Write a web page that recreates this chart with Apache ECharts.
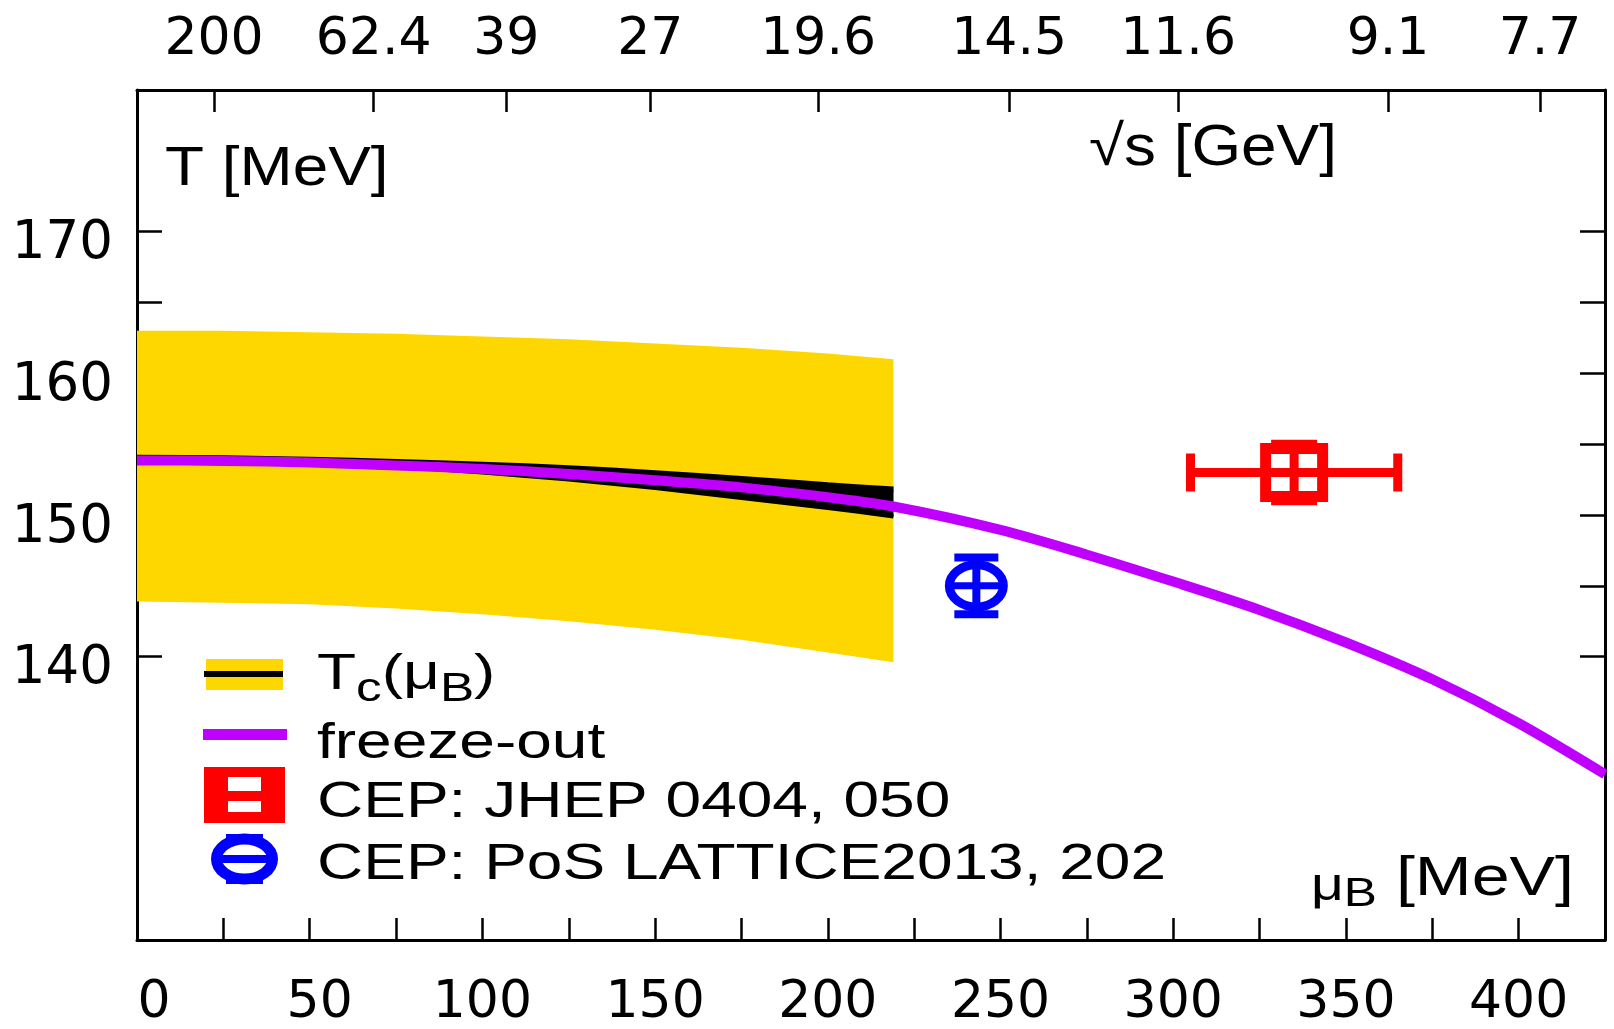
<!DOCTYPE html>
<html>
<head>
<meta charset="utf-8">
<script src="https://cdn.jsdelivr.net/npm/echarts@6/dist/echarts.min.js"></script>
<style>
html,body{margin:0;padding:0;background:#fff;}
#chart{width:1614px;height:1029px;}
</style>
</head>
<body>
<div id="chart"></div>
<script>
// ---- data ----
const muBand     = [0, 25, 50, 75, 100, 125, 150, 175, 200, 219];
const bandUpper  = [163.0, 163.0, 162.9, 162.8, 162.6, 162.4, 162.1, 161.8, 161.4, 161.0];
const bandLower  = [143.9, 143.8, 143.7, 143.4, 143.0, 142.5, 141.9, 141.2, 140.3, 139.6];
const tcUpper    = [154.05, 154.0, 153.9, 153.75, 153.55, 153.3, 152.95, 152.55, 152.1, 151.8];
const tcLower    = [154.0, 153.9, 153.7, 153.4, 153.0, 152.5, 151.9, 151.2, 150.5, 149.9];
const muFreeze   = [0, 25, 50, 75, 100, 125, 150, 175, 200, 219, 250, 275, 300, 325, 350, 375, 400, 425];
const tFreeze    = [153.85, 153.82, 153.7, 153.5, 153.25, 152.9, 152.45, 151.95, 151.25, 150.6, 148.95, 147.2, 145.3, 143.3, 141.0, 138.4, 135.3, 131.7];
const cepJhep    = [335, 153, 30, 2];   // muB, T, dMuB, dT
const cepLattice = [243, 145, 0, 2];    // muB, T, dMuB, dT
const xTickVals  = [25, 50, 75, 100, 125, 150, 175, 200, 225, 250, 275, 300, 325, 350, 375, 400];
const xLabelVals = [0, 50, 100, 150, 200, 250, 300, 350, 400];
const yTickVals  = [140, 145, 150, 155, 160, 165, 170];
const yLabelVals = [140, 150, 160, 170];
const sqrtsMu     = [22.3, 68.5, 106.9, 148.6, 197.2, 252.5, 301.4, 362.2, 406.2];
const sqrtsLabels = ['200', '62.4', '39', '27', '19.6', '14.5', '11.6', '9.1', '7.7'];
const legendNames = ['T{s|c}(μ{s|B})', 'freeze-out', 'CEP: JHEP 0404, 050', 'CEP: PoS LATTICE2013, 202'];

const YELLOW = '#FFD700', PURPLE = '#BF00FF', RED = '#FF0000', BLUE = '#0000FF';
const TICKFONT = 'DejaVu Sans';
const TXTFONT = 'Liberation Sans, Arial, sans-serif';

const chart = echarts.init(document.getElementById('chart'));

function pair(xs, ys) { return xs.map((x, i) => [x, ys[i]]); }

function bandRender(upper, lower, color) {
  return function (params, api) {
    const pts = [];
    for (let i = 0; i < muBand.length; i++) pts.push(api.coord([muBand[i], upper[i]]));
    for (let i = muBand.length - 1; i >= 0; i--) pts.push(api.coord([muBand[i], lower[i]]));
    return { type: 'polygon', shape: { points: pts }, style: { fill: color } };
  };
}

function jhepRender(params, api) {
  const mu = api.value(0), t = api.value(1), dm = api.value(2), dt = api.value(3);
  const c = api.coord([mu, t]);
  const xl = api.coord([mu - dm, t]), xr = api.coord([mu + dm, t]);
  const yt = api.coord([mu, t + dt]), yb = api.coord([mu, t - dt]);
  const st = { stroke: RED, lineWidth: 9, fill: null };
  return {
    type: 'group',
    children: [
      { type: 'line', shape: { x1: xl[0], y1: c[1], x2: xr[0], y2: c[1] }, style: st },
      { type: 'line', shape: { x1: xl[0], y1: c[1] - 19, x2: xl[0], y2: c[1] + 19 }, style: st },
      { type: 'line', shape: { x1: xr[0], y1: c[1] - 19, x2: xr[0], y2: c[1] + 19 }, style: st },
      { type: 'line', shape: { x1: c[0], y1: yt[1], x2: c[0], y2: yb[1] }, style: st },
      { type: 'line', shape: { x1: c[0] - 23, y1: yt[1], x2: c[0] + 23, y2: yt[1] }, style: st },
      { type: 'line', shape: { x1: c[0] - 23, y1: yb[1], x2: c[0] + 23, y2: yb[1] }, style: st },
      { type: 'rect', shape: { x: c[0] - 28.5, y: c[1] - 24, width: 57, height: 48 },
        style: { stroke: RED, lineWidth: 11, fill: null } }
    ]
  };
}

function latticeRender(params, api) {
  const mu = api.value(0), t = api.value(1), dt = api.value(3);
  const c = api.coord([mu, t]);
  const yt = api.coord([mu, t + dt]), yb = api.coord([mu, t - dt]);
  const st = { stroke: BLUE, lineWidth: 8, fill: null };
  return {
    type: 'group',
    children: [
      { type: 'line', shape: { x1: c[0], y1: yt[1], x2: c[0], y2: yb[1] }, style: st },
      { type: 'line', shape: { x1: c[0] - 22, y1: yt[1], x2: c[0] + 22, y2: yt[1] }, style: st },
      { type: 'line', shape: { x1: c[0] - 22, y1: yb[1], x2: c[0] + 22, y2: yb[1] }, style: st },
      { type: 'line', shape: { x1: c[0] - 27, y1: c[1], x2: c[0] + 27, y2: c[1] }, style: { stroke: BLUE, lineWidth: 7 } },
      { type: 'ellipse', shape: { cx: c[0], cy: c[1], rx: 27, ry: 21 },
        style: { stroke: BLUE, lineWidth: 9, fill: null } }
    ]
  };
}

const axisLine = { show: true, onZero: false, lineStyle: { color: '#000', width: 3 } };
const tickStyle = { color: '#000', width: 2.5 };

const option = {
  animation: false,
  backgroundColor: '#fff',
  grid: { left: 137, right: 9, top: 90, bottom: 84 },
  xAxis: [
    {
      type: 'value', position: 'bottom', min: 0, max: 425,
      axisLine: axisLine, splitLine: { show: false },
      axisTick: { show: true, inside: true, length: 22, customValues: xTickVals, lineStyle: tickStyle },
      axisLabel: {
        customValues: xLabelVals, margin: 37, color: '#000', fontFamily: TICKFONT, fontSize: 52,
        formatter: function (v) {
          if (v === 0) return '{a|0}';
          if (v === 50) return '{b|50}';
          return String(v);
        },
        rich: {
          a: { fontFamily: TICKFONT, fontSize: 52, color: '#000', padding: [0, 0, 0, 34] },
          b: { fontFamily: TICKFONT, fontSize: 52, color: '#000', padding: [0, 0, 0, 20] }
        }
      }
    },
    {
      type: 'value', position: 'top', min: 0, max: 425,
      axisLine: axisLine, splitLine: { show: false },
      axisTick: { show: true, inside: true, length: 22, customValues: sqrtsMu, lineStyle: tickStyle },
      axisLabel: {
        customValues: sqrtsMu, margin: 24, color: '#000', fontFamily: TICKFONT, fontSize: 52,
        formatter: function (v) {
          const i = sqrtsMu.findIndex(m => Math.abs(m - v) < 1e-6);
          return i >= 0 ? sqrtsLabels[i] : '';
        }
      }
    }
  ],
  yAxis: [
    {
      type: 'value', position: 'left', min: 120, max: 180,
      axisLine: axisLine, splitLine: { show: false },
      axisTick: { show: true, inside: true, length: 25, customValues: yTickVals, lineStyle: tickStyle },
      axisLabel: {
        customValues: yLabelVals, margin: 24, color: '#000', fontFamily: TICKFONT, fontSize: 53,
        verticalAlign: 'top', lineHeight: 26
      }
    },
    {
      type: 'value', position: 'right', min: 120, max: 180,
      axisLine: axisLine, splitLine: { show: false },
      axisTick: { show: true, inside: true, length: 25, customValues: yTickVals, lineStyle: tickStyle },
      axisLabel: { show: false }
    }
  ],
  series: [
    { name: 'Tc band', type: 'custom', xAxisIndex: 0, yAxisIndex: 0, z: 1, silent: true, clip: true,
      data: [[muBand[0], bandUpper[0]]], renderItem: bandRender(bandUpper, bandLower, YELLOW) },
    { name: 'Tc central band', type: 'custom', xAxisIndex: 0, yAxisIndex: 0, z: 2, silent: true, clip: true,
      data: [[muBand[0], tcUpper[0]]], renderItem: bandRender(tcUpper, tcLower, '#000') },
    { name: 'Tc upper', type: 'line', z: 3, data: pair(muBand, tcUpper), symbol: 'none', smooth: 0.3,
      lineStyle: { color: '#000', width: 6 }, silent: true },
    { name: 'Tc lower', type: 'line', z: 3, data: pair(muBand, tcLower), symbol: 'none', smooth: 0.3,
      lineStyle: { color: '#000', width: 4 }, silent: true },
    { name: 'freeze-out', type: 'line', z: 4, data: pair(muFreeze, tFreeze), symbol: 'none', smooth: 0.3,
      lineStyle: { color: PURPLE, width: 10 }, silent: true },
    { name: 'CEP JHEP', type: 'custom', z: 5, clip: false, silent: true,
      data: [cepJhep], encode: { x: 0, y: 1 }, renderItem: jhepRender },
    { name: 'CEP Lattice', type: 'custom', z: 5, clip: false, silent: true,
      data: [cepLattice], encode: { x: 0, y: 1 }, renderItem: latticeRender }
  ],
  graphic: [
    // axis titles
    { type: 'text', x: 165, y: 170, scaleX: 1.14, z: 100,
      style: { text: 'T [MeV]', fontFamily: TXTFONT, fontSize: 56, fill: '#000', verticalAlign: 'middle', align: 'left' } },
    { type: 'text', x: 1089, y: 149, scaleX: 1.12, z: 100,
      style: { text: '√s [GeV]', fontFamily: TXTFONT, fontSize: 57, fill: '#000', verticalAlign: 'middle', align: 'left' } },
    { type: 'text', x: 1311, y: 880, scaleX: 1.24, z: 100,
      style: { text: '{m|μ}{s|B} [MeV]', fontFamily: TXTFONT, fontSize: 55, fill: '#000', verticalAlign: 'middle', align: 'left',
        rich: { m: { fontFamily: TXTFONT, fontSize: 46, fill: '#000', padding: [14, 0, 0, 0] },
                s: { fontFamily: TXTFONT, fontSize: 40, fill: '#000', padding: [30, 0, 0, 0] } } } },
    // legend symbols
    { type: 'rect', z: 100, shape: { x: 206, y: 659, width: 77, height: 31 }, style: { fill: YELLOW } },
    { type: 'line', z: 101, shape: { x1: 204, y1: 674, x2: 283, y2: 674 }, style: { stroke: '#000', lineWidth: 6 } },
    { type: 'line', z: 100, shape: { x1: 203, y1: 734.5, x2: 287, y2: 734.5 }, style: { stroke: PURPLE, lineWidth: 11 } },
    { type: 'rect', z: 100, shape: { x: 204, y: 767, width: 81, height: 56 }, style: { fill: RED } },
    { type: 'rect', z: 101, shape: { x: 228, y: 777, width: 33, height: 14 }, style: { fill: '#fff' } },
    { type: 'rect', z: 101, shape: { x: 228, y: 801, width: 33, height: 11 }, style: { fill: '#fff' } },
    { type: 'ellipse', z: 100, shape: { cx: 244.5, cy: 859, rx: 28, ry: 20 }, style: { stroke: BLUE, lineWidth: 11, fill: null } },
    { type: 'line', z: 101, shape: { x1: 218, y1: 859, x2: 271, y2: 859 }, style: { stroke: BLUE, lineWidth: 8 } },
    { type: 'rect', z: 100, shape: { x: 226, y: 834, width: 37, height: 7 }, style: { fill: BLUE } },
    { type: 'rect', z: 100, shape: { x: 226, y: 877, width: 37, height: 7 }, style: { fill: BLUE } },
    // legend texts
    { type: 'text', x: 317, y: 675, scaleX: 1.28, z: 100,
      style: { text: legendNames[0], fontFamily: TXTFONT, fontSize: 50, fill: '#000', verticalAlign: 'middle', align: 'left',
        rich: { s: { fontFamily: TXTFONT, fontSize: 40, fill: '#000', padding: [30, 0, 0, 0] } } } },
    { type: 'text', x: 317, y: 744, scaleX: 1.28, z: 100,
      style: { text: legendNames[1], fontFamily: TXTFONT, fontSize: 50, fill: '#000', verticalAlign: 'middle', align: 'left' } },
    { type: 'text', x: 317, y: 803, scaleX: 1.28, z: 100,
      style: { text: legendNames[2], fontFamily: TXTFONT, fontSize: 50, fill: '#000', verticalAlign: 'middle', align: 'left' } },
    { type: 'text', x: 317, y: 865, scaleX: 1.28, z: 100,
      style: { text: legendNames[3], fontFamily: TXTFONT, fontSize: 50, fill: '#000', verticalAlign: 'middle', align: 'left' } }
  ]
};
chart.setOption(option);
</script>
</body>
</html>
